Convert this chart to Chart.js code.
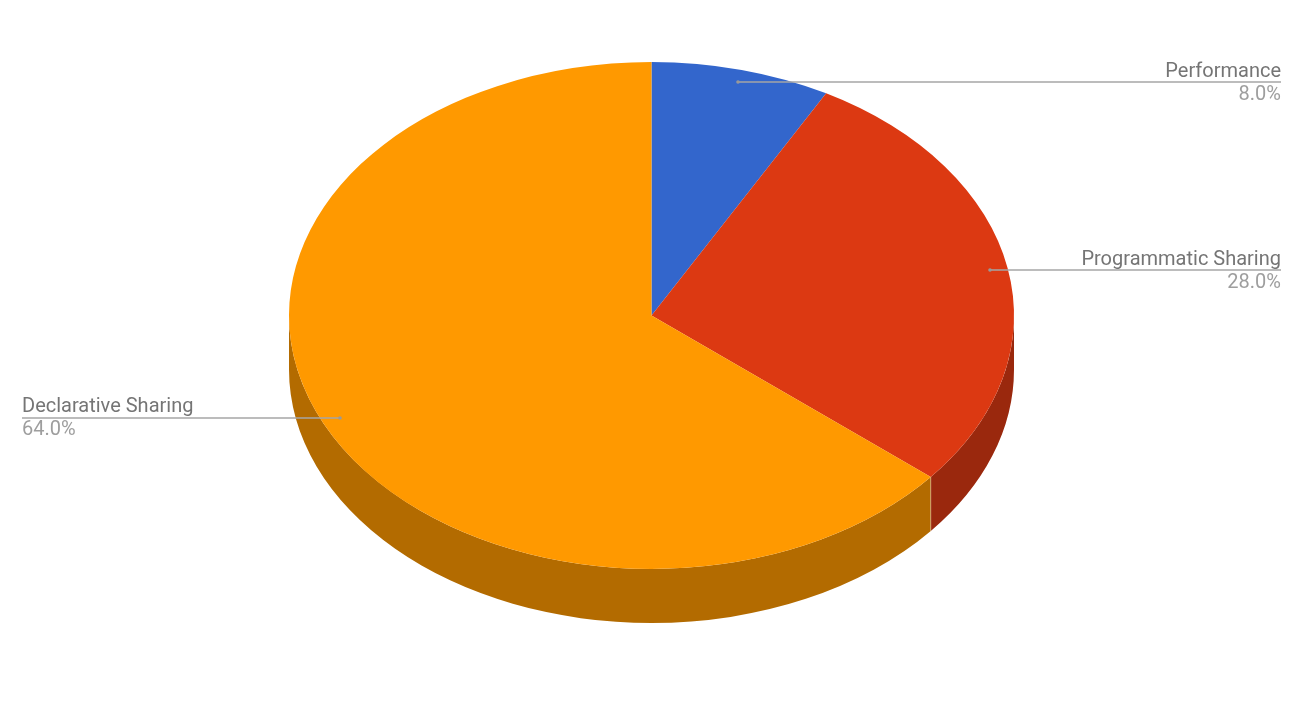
<!DOCTYPE html>
<html>
<head>
<meta charset="utf-8">
<style>
  html, body { margin: 0; padding: 0; background: #fff; }
  #wrap { width: 1304px; height: 716px; position: relative; }
</style>
<script src="https://cdn.jsdelivr.net/npm/chart.js@4"></script>
</head>
<body>
<div id="wrap"><canvas id="myChart"></canvas></div>
<script>
const categories = ['Performance', 'Programmatic Sharing', 'Declarative Sharing'];
const shares = [8, 28, 64];
const topColors = ['#3366cc', '#dc3912', '#ff9900'];
const sideColors = ['#24478f', '#9a280d', '#b36b00'];

// tilted pie geometry
const centerX = 651.5, centerY = 315.5, radiusX = 362.5, radiusY = 253.5, depth = 54;
const squash = radiusY / radiusX;

// leader lines and label anchors, same order as categories
const labelSpots = [
    { fromX: 738, toX: 1281, y: 82, nameY: 77, valueY: 100, align: 'right' },
    { fromX: 990, toX: 1281, y: 270, nameY: 265, valueY: 288, align: 'right' },
    { fromX: 340, toX: 22, y: 418, nameY: 412, valueY: 435, align: 'left' }
];

const tiltPlugin = {
    id: 'tilt',
    beforeDatasetsDraw(chart) {
        const ctx = chart.ctx;
        const arcs = chart.getDatasetMeta(0).data;
        // side wall, only the front half of the ellipse shows
        arcs.forEach((arc, i) => {
            const a = Math.max(arc.startAngle, 0);
            const b = Math.min(arc.endAngle, Math.PI);
            if (b <= a) return;
            ctx.save();
            ctx.beginPath();
            ctx.ellipse(centerX, centerY, radiusX, radiusY, 0, a, b);
            ctx.ellipse(centerX, centerY + depth, radiusX, radiusY, 0, b, a, true);
            ctx.closePath();
            ctx.fillStyle = sideColors[i];
            ctx.fill();
            // thin light seam where two walls meet
            if (a > 0) {
                ctx.beginPath();
                ctx.moveTo(centerX + radiusX * Math.cos(a), centerY + radiusY * Math.sin(a));
                ctx.lineTo(centerX + radiusX * Math.cos(a), centerY + radiusY * Math.sin(a) + depth);
                ctx.strokeStyle = 'rgba(255,255,255,0.35)';
                ctx.lineWidth = 1;
                ctx.stroke();
            }
            ctx.restore();
        });
        // squash the library's circle into the top face
        const first = arcs[0];
        ctx.save();
        ctx.translate(centerX, centerY);
        ctx.scale(1, squash);
        ctx.translate(-first.x, -first.y);
    },
    afterDatasetsDraw(chart) {
        const ctx = chart.ctx;
        ctx.restore();
        ctx.save();
        labelSpots.forEach((spot, i) => {
            ctx.strokeStyle = '#a6a6a6';
            ctx.lineWidth = 1.4;
            ctx.beginPath();
            ctx.moveTo(spot.fromX, spot.y);
            ctx.lineTo(spot.toX, spot.y);
            ctx.stroke();
            ctx.fillStyle = '#999999';
            ctx.beginPath();
            ctx.arc(spot.fromX, spot.y, 1.8, 0, Math.PI * 2);
            ctx.fill();

            ctx.textAlign = spot.align;
            ctx.textBaseline = 'alphabetic';
            ctx.font = '20px Roboto';
            ctx.fillStyle = '#757575';
            ctx.fillText(categories[i], spot.toX, spot.nameY);
            ctx.fillStyle = '#9e9e9e';
            ctx.fillText(shares[i].toFixed(1) + '%', spot.toX, spot.valueY);
        });
        ctx.restore();
    }
};

document.addEventListener('DOMContentLoaded', () => {
    const ctx = document.getElementById('myChart').getContext('2d');
    new Chart(ctx, {
        type: 'pie',
        data: {
            labels: categories,
            datasets: [{
                data: shares,
                backgroundColor: topColors,
                borderWidth: 0
            }]
        },
        options: {
            responsive: true,
            maintainAspectRatio: false,
            animation: false,
            radius: radiusX,
            plugins: {
                legend: { display: false },
                tooltip: { enabled: false }
            }
        },
        plugins: [tiltPlugin]
    });
});
</script>
</body>
</html>
